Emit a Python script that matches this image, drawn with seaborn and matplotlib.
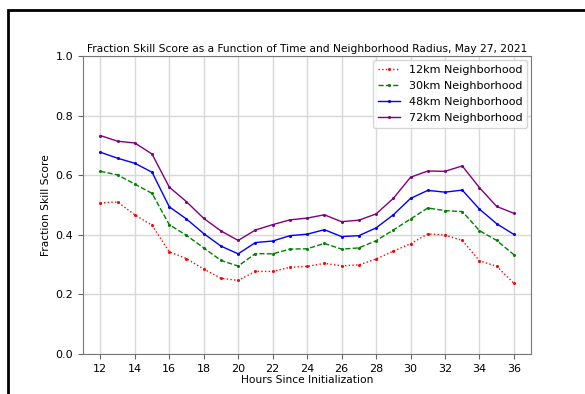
import numpy as np
import pandas as pd
import seaborn as sns
import matplotlib.pyplot as plt
from matplotlib.patches import Rectangle

# Forecast hours
hours = list(range(12, 37))

# FSS values
fss_12km = [0.507, 0.510, 0.467, 0.432, 0.343, 0.320, 0.285, 0.254, 0.247, 0.277,
            0.277, 0.291, 0.294, 0.304, 0.296, 0.299, 0.319, 0.345, 0.370, 0.403,
            0.399, 0.381, 0.313, 0.294, 0.237]
fss_30km = [0.613, 0.601, 0.570, 0.539, 0.434, 0.398, 0.356, 0.314, 0.295, 0.337,
            0.336, 0.352, 0.353, 0.371, 0.352, 0.356, 0.380, 0.416, 0.453, 0.490,
            0.481, 0.478, 0.414, 0.381, 0.333]
fss_48km = [0.677, 0.657, 0.640, 0.610, 0.494, 0.453, 0.404, 0.362, 0.336, 0.374,
            0.379, 0.397, 0.402, 0.417, 0.394, 0.397, 0.423, 0.467, 0.522, 0.549,
            0.543, 0.550, 0.486, 0.437, 0.401]
fss_72km = [0.733, 0.714, 0.708, 0.671, 0.560, 0.511, 0.455, 0.413, 0.381, 0.416,
            0.434, 0.450, 0.456, 0.467, 0.444, 0.449, 0.470, 0.522, 0.593, 0.614,
            0.613, 0.631, 0.558, 0.495, 0.472]

labels = ["12km Neighborhood", "30km Neighborhood", "48km Neighborhood", "72km Neighborhood"]
series = [fss_12km, fss_30km, fss_48km, fss_72km]
colors = ["red", "green", "blue", "purple"]
styles = [":", "--", "-", "-"]

fig = plt.figure(figsize=(5.85, 3.94), dpi=100)
ax = fig.add_axes([0.142, 0.1015, 0.766, 0.7565])

for lab, vals, c, ls in zip(labels, series, colors, styles):
    df = pd.DataFrame({"hour": hours, "fss": vals})
    sns.lineplot(data=df, x="hour", y="fss", ax=ax, color=c, linestyle=ls,
                 marker="o", markersize=2.2, markeredgecolor=c, markeredgewidth=0,
                 linewidth=1.0, label=lab)

ax.set_xlim(11, 37)
ax.set_ylim(0, 1.0)
ax.set_xticks(range(12, 37, 2))
ax.set_yticks(np.arange(0, 1.01, 0.2))
ax.tick_params(labelsize=8, color="#666666")
ax.grid(True, color="#d8d8d8", linewidth=1.0)
for s in ax.spines.values():
    s.set_color("#777777")
ax.set_xlabel("Hours Since Initialization", fontsize=7.7, labelpad=1)
ax.set_ylabel("Fraction Skill Score", fontsize=7.7, labelpad=3)
ax.set_title("Fraction Skill Score as a Function of Time and Neighborhood Radius, May 27, 2021",
             fontsize=7.7, pad=3)
ax.legend(loc="upper right", fontsize=8, handlelength=2.0, borderpad=0.4,
          labelspacing=0.55, borderaxespad=0.4)

# black frame from the original screenshot
fig.patches.append(Rectangle((8 / 585, -0.05), 1.1, 1 - 9.5 / 394 + 0.05,
                             transform=fig.transFigure, fill=False,
                             edgecolor="black", linewidth=2, clip_on=False))

fig.savefig("out.png", dpi=100)
